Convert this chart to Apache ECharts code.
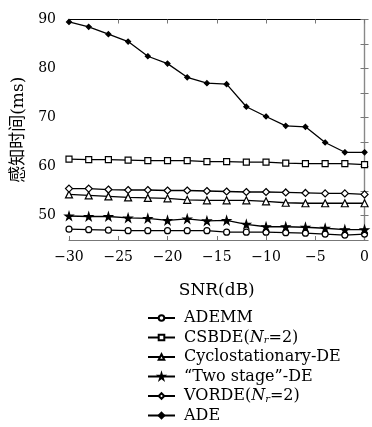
<!DOCTYPE html>
<html>
<head>
<meta charset="utf-8">
<script src="https://cdn.jsdelivr.net/npm/echarts@6/dist/echarts.min.js"></script>
<style>
  html, body { margin: 0; padding: 0; background: #fff; }
  #chart { width: 372px; height: 427px; }
</style>
</head>
<body>
<div id="chart"></div>
<script>
// 数据
var snr = [-30, -28, -26, -24, -22, -20, -18, -16, -14, -12, -10, -8, -6, -4, -2, 0];
var seriesNames = ['ADEMM', 'CSBDE(N_r=2)', 'Cyclostationary-DE', '\u201cTwo stage\u201d-DE', 'VORDE(N_r=2)', 'ADE'];
var ademm = [47.2, 47.1, 47.0, 46.9, 46.9, 46.9, 46.9, 46.9, 46.6, 46.6, 46.6, 46.5, 46.4, 46.2, 46.0, 46.2];
var csbde = [61.5, 61.4, 61.4, 61.3, 61.2, 61.2, 61.2, 61.0, 61.0, 60.9, 60.9, 60.7, 60.6, 60.6, 60.6, 60.4];
var cyclo = [54.3, 54.1, 53.9, 53.7, 53.6, 53.5, 53.2, 53.1, 53.1, 53.1, 52.9, 52.6, 52.5, 52.5, 52.5, 52.5];
var twoStage = [49.9, 49.8, 49.8, 49.5, 49.4, 49.0, 49.3, 48.9, 49.0, 48.2, 47.7, 47.7, 47.6, 47.4, 47.1, 47.1];
var vorde = [55.5, 55.5, 55.3, 55.2, 55.2, 55.1, 55.1, 55.0, 54.9, 54.8, 54.8, 54.7, 54.6, 54.5, 54.5, 54.3];
var ade = [89.5, 88.5, 87.0, 85.5, 82.5, 81.0, 78.2, 77.0, 76.8, 72.2, 70.2, 68.3, 68.1, 64.9, 62.9, 62.9];

var starPath = 'path://M50,0 L61,35 L98,35 L68,57 L79,91 L50,70 L21,91 L32,57 L2,35 L39,35 Z';
var serif = 'DejaVu Serif, Noto Sans CJK SC';

function pairs(vals) {
  return snr.map(function (x, i) { return [x, vals[i]]; });
}

function line(name, vals, symbol, size, filled) {
  return {
    name: name,
    type: 'line',
    data: pairs(vals),
    symbol: symbol,
    symbolSize: size,
    showSymbol: true,
    lineStyle: { color: '#000', width: 1.3 },
    itemStyle: {
      color: filled ? '#000' : '#fff',
      borderColor: '#000',
      borderWidth: 1.2
    },
    emphasis: { disabled: true },
    z: 3
  };
}

var chart = echarts.init(document.getElementById('chart'));
var option = {
  animation: false,
  backgroundColor: '#fff',
  grid: { left: 69, right: 5, top: 19.5, bottom: 187, containLabel: false },
  legend: {
    orient: 'vertical',
    left: 142,
    top: 305,
    height: 122,
    itemWidth: 27,
    itemHeight: 7,
    itemGap: 3.5,
    data: seriesNames,
    textStyle: {
      fontFamily: serif,
      fontSize: 16,
      lineHeight: 16,
      color: '#000',
      padding: [0, 0, 0, 4],
      rich: {
        i: { fontFamily: serif, fontStyle: 'italic', fontSize: 16, lineHeight: 16, color: '#000' },
        sub: { fontFamily: serif, fontStyle: 'italic', fontSize: 10, lineHeight: 10, verticalAlign: 'bottom', color: '#000' }
      }
    },
    formatter: function (name) {
      return name.replace('N_r', '{i|N}{sub|r}');
    }
  },
  xAxis: [{
    type: 'value',
    min: -30,
    max: 0,
    interval: 5,
    name: 'SNR(dB)',
    nameLocation: 'middle',
    nameGap: 42,
    nameTextStyle: { fontFamily: serif, fontSize: 17, color: '#000' },
    axisLine: { lineStyle: { color: '#777', width: 1.2 } },
    axisTick: { inside: true, length: 4, lineStyle: { color: '#777' } },
    axisLabel: {
      fontFamily: serif, fontSize: 14, color: '#000', margin: 10,
      formatter: function (v) { return String(v).replace('-', '\u2212'); }
    },
    splitLine: { show: false }
  }, {
    type: 'value',
    position: 'top',
    min: -30,
    max: 0,
    interval: 5,
    axisLine: { lineStyle: { color: '#000', width: 1.2 } },
    axisTick: { inside: true, length: 4, lineStyle: { color: '#777' } },
    axisLabel: { show: false },
    splitLine: { show: false }
  }],
  yAxis: [{
    type: 'value',
    min: 45,
    max: 90,
    interval: 5,
    name: '感知时间(ms)',
    nameLocation: 'middle',
    nameGap: 40,
    nameTextStyle: { fontFamily: serif, fontSize: 17, color: '#000' },
    axisLine: { show: true, lineStyle: { color: '#888', width: 1.2 } },
    axisTick: { show: true, inside: true, length: 4, lineStyle: { color: '#777' } },
    axisLabel: {
      fontFamily: serif, fontSize: 14, color: '#000', margin: 13,
      formatter: function (v) { return v % 10 === 0 ? String(v) : ''; }
    },
    splitLine: { show: false }
  }, {
    type: 'value',
    position: 'right',
    min: 45,
    max: 90,
    interval: 5,
    axisLine: { show: true, lineStyle: { color: '#888', width: 1.2 } },
    axisTick: { show: true, inside: true, length: 4, lineStyle: { color: '#777' } },
    axisLabel: { show: false },
    splitLine: { show: false }
  }],
  series: [
    line(seriesNames[0], ademm, 'circle', 6, false),
    line(seriesNames[1], csbde, 'rect', 6, false),
    line(seriesNames[2], cyclo, 'triangle', 7, false),
    line(seriesNames[3], twoStage, starPath, 8, true),
    line(seriesNames[4], vorde, 'diamond', 7, false),
    line(seriesNames[5], ade, 'diamond', 5, true)
  ]
};
chart.setOption(option);
</script>
</body>
</html>
